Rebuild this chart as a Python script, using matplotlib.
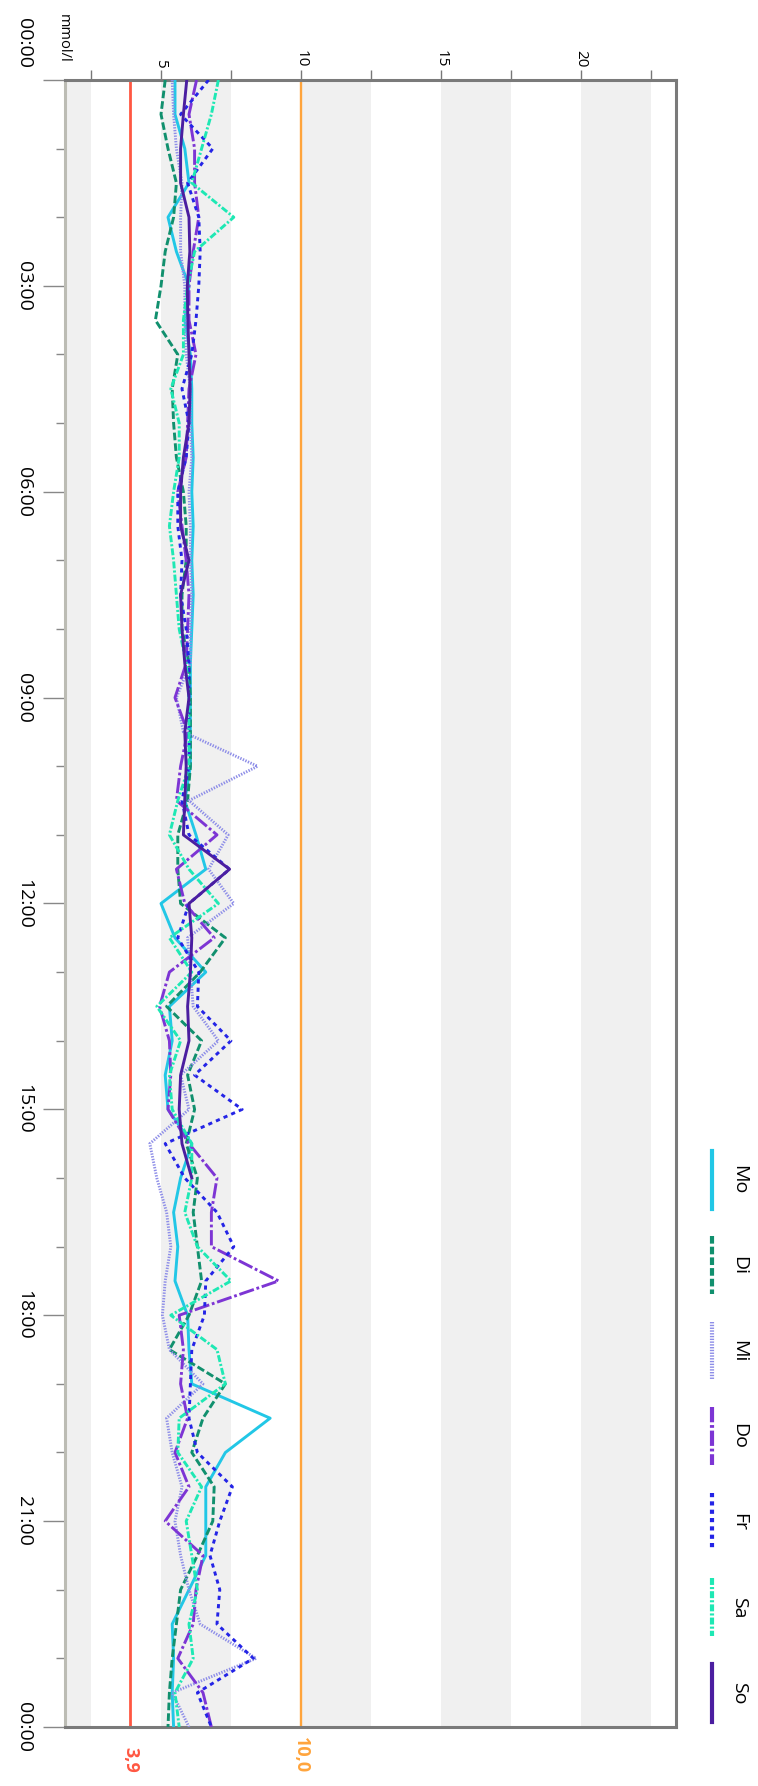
import numpy as np
import matplotlib
matplotlib.use("Agg")
import matplotlib.pyplot as plt

plt.rcParams['font.family'] = ['Open Sans', 'DejaVu Sans']
plt.rcParams['lines.scale_dashes'] = False

# Zeitraster (Stunden) und Werte in mmol/l
hours = np.arange(0, 24.5, 0.5)

mo = [5.5, 5.5, 5.85, 6.0, 5.25, 5.55, 6.0, 5.85, 6.05, 6.1, 6.1, 6.15, 6.1, 6.15, 6.1, 6.15,
      6.1, 6.05, 6.05, 6.05, 6.05, 5.85, 6.25, 6.6, 5.0, 5.5, 6.6, 5.3, 5.4, 5.15, 5.25, 6.1,
      5.7, 5.45, 5.6, 5.5, 5.95, 6.0, 6.1, 8.9, 7.3, 6.6, 6.6, 6.6, 6.0, 5.4, 5.45, 5.4, 5.45]
di = [5.15, 5.0, 5.25, 5.55, 5.45, 5.15, 5.0, 4.8, 5.6, 5.4, 5.45, 5.55, 5.8, 5.9, 5.9, 5.75,
      5.75, 6.0, 6.05, 6.05, 6.05, 5.95, 5.6, 5.6, 5.7, 7.3, 6.4, 5.2, 6.45, 5.95, 6.2, 5.9,
      6.3, 6.15, 6.3, 6.45, 6.0, 5.3, 7.3, 6.5, 6.1, 6.9, 6.85, 6.3, 5.7, 5.55, 5.4, 5.3, 5.25]
mi = [5.4, 5.45, 5.55, 5.75, 5.7, 5.7, 5.85, 5.85, 5.9, 6.05, 6.05, 6.1, 6.0, 6.05, 6.05, 6.1,
      6.05, 6.05, 5.55, 5.8, 8.45, 6.0, 7.4, 6.7, 7.6, 5.95, 6.05, 6.15, 7.05, 5.7, 6.0, 4.6,
      4.85, 5.2, 5.35, 5.15, 5.05, 5.3, 6.5, 5.2, 5.4, 5.75, 5.5, 5.7, 6.0, 6.4, 8.4, 5.4, 6.0]
do = [6.27, 6.0, 6.2, 6.2, 6.35, 6.15, 6.0, 6.0, 6.25, 6.0, 5.95, 5.9, 5.6, 5.75, 5.9, 6.0,
      5.95, 5.9, 5.5, 5.95, 5.7, 5.55, 7.0, 5.55, 5.85, 6.9, 5.3, 4.95, 5.3, 5.35, 5.25, 6.0,
      7.0, 6.8, 6.8, 9.2, 5.65, 5.8, 5.7, 5.95, 5.5, 6.0, 5.15, 6.5, 6.25, 6.15, 5.6, 6.5, 6.8]
fr = [6.7, 5.7, 6.85, 5.95, 6.35, 6.4, 6.35, 6.25, 6.1, 5.75, 6.0, 5.9, 5.6, 5.6, 5.75, 5.7,
      5.9, 6.0, 6.0, 6.0, 6.0, 5.75, 6.0, 7.45, 6.0, 5.6, 6.35, 6.3, 7.5, 6.2, 7.9, 5.15,
      5.85, 7.0, 7.6, 6.6, 6.55, 6.1, 6.05, 6.0, 6.3, 7.55, 7.1, 6.75, 7.1, 7.0, 8.3, 6.3, 6.8]
sa = [7.05, 6.8, 6.45, 6.1, 7.6, 6.2, 5.95, 5.8, 5.8, 5.35, 5.65, 5.65, 5.45, 5.3, 5.45, 5.55,
      5.65, 5.9, 6.0, 6.0, 6.0, 5.6, 5.3, 6.0, 7.05, 5.3, 6.1, 4.85, 5.7, 5.3, 5.4, 6.1,
      6.1, 5.85, 6.3, 7.5, 5.35, 7.0, 7.3, 5.65, 5.6, 6.45, 5.9, 6.1, 6.3, 6.0, 6.15, 5.5, 5.65]
so = [5.92, 5.8, 5.7, 5.7, 6.0, 6.03, 5.94, 5.96, 6.0, 6.04, 6.0, 5.8, 5.7, 5.7, 6.0, 5.7,
      5.75, 5.85, 6.0, 5.85, 5.9, 5.85, 5.8, 7.45, 6.0, 6.1, 6.05, 5.95, 6.0, 5.7, 5.65, 5.75,
      6.1]

days = ["Mo", "Di", "Mi", "Do", "Fr", "Sa", "So"]
series = [mo, di, mi, do, fr, sa, so]
colors = ["#22c7e6", "#11906e", "#8e8ee8", "#7d35d4", "#2424e6", "#1ee8b4", "#4b1ea0"]
dashes = [None, (5.5, 2.2), (1, 1), (11, 2, 2, 2), (3, 3), (5, 1.5, 1.5, 1.5), None]

time_labels = ["00:00", "03:00", "06:00", "09:00", "12:00", "15:00", "18:00", "21:00", "00:00"]
low_limit = 3.9
high_limit = 10.0

fig = plt.figure(figsize=(7.58, 17.86), dpi=100)
ax = fig.add_axes([65 / 758, 1 - 1727 / 1786, (676 - 65) / 758, (1727 - 80) / 1786])

# graue Baender
for s in [0, 5, 10, 15, 20]:
    ax.axvspan(s, s + 2.5, color="#f0f0f0", zorder=0, lw=0)

ax.axvline(low_limit, color="#ff5742", lw=2.0, zorder=1)
ax.axvline(high_limit, color="#ffa43c", lw=1.7, zorder=1)

for vals, col, d in zip(series, colors, dashes):
    t = hours[:len(vals)]
    if d is None:
        ax.plot(vals, t, color=col, lw=2.1, solid_joinstyle="round", zorder=3)
    else:
        ax.plot(vals, t, color=col, lw=2.1, dashes=d, dash_joinstyle="round", zorder=3)

ax.set_xlim(1.57, 23.4)
ax.set_ylim(24, 0)

# Achsen
ax.xaxis.tick_top()
ax.set_xticks([5, 10, 15, 20])
ax.set_xticklabels(["5", "10", "15", "20"])
ax.set_xticks([2.5, 7.5, 12.5, 17.5, 22.5], minor=True)
ax.tick_params(axis="x", which="both", top=True, bottom=False, length=7, width=1,
               color="#777777", pad=2, labelsize=11, labelrotation=270)

ax.set_yticks(np.arange(0, 25, 3))
ax.set_yticklabels([""] + time_labels[1:])
ax.set_yticks(np.arange(0, 25, 1), minor=True)
ax.tick_params(axis="y", which="major", length=16, width=1, color="#888888", pad=7,
               labelsize=14, labelrotation=270)
ax.tick_params(axis="y", which="minor", length=6.5, width=1, color="#888888")
for lab in ax.get_yticklabels():
    lab.set_va("center")

# erste Beschriftung sitzt oberhalb des Ticks
fig.text(33 / 758, 1 - 68 / 1786, time_labels[0], rotation=270, ha="right", va="bottom",
         fontsize=14)

for side in ["top", "right", "bottom"]:
    ax.spines[side].set_color("#7a7a7a")
    ax.spines[side].set_linewidth(2.2)
ax.spines["left"].set_color("#bcbcb4")
ax.spines["left"].set_linewidth(2.2)

fig.text(63 / 758, 1 - 63 / 1786, "mmol/l", rotation=270, ha="center", va="bottom", fontsize=10.5)

ax.text(low_limit, -0.028, "3,9", transform=ax.get_xaxis_transform(), rotation=270,
        ha="center", va="bottom", color="#ff5742", fontsize=13, fontweight="bold")
ax.text(high_limit, -0.028, "10,0", transform=ax.get_xaxis_transform(), rotation=270,
        ha="center", va="bottom", color="#ffa43c", fontsize=13, fontweight="bold")

# Legende rechts
lax = fig.add_axes([700 / 758, 1 - 1740 / 1786, 58 / 758, 600 / 1786])
lax.set_xlim(700, 758)
lax.set_ylim(1740, 1140)
lax.axis("off")
for i, (name, col, d) in enumerate(zip(days, colors, dashes)):
    c = 1180 + 85.5 * i
    if d is None:
        lax.plot([712, 712], [c - 29, c + 29], color=col, lw=3)
    else:
        lax.plot([712, 712], [c - 29, c + 29], color=col, lw=3, dashes=d)
    lax.text(739, c, name, rotation=270, ha="center", va="center", fontsize=14)

fig.savefig("out.png", dpi=100)
